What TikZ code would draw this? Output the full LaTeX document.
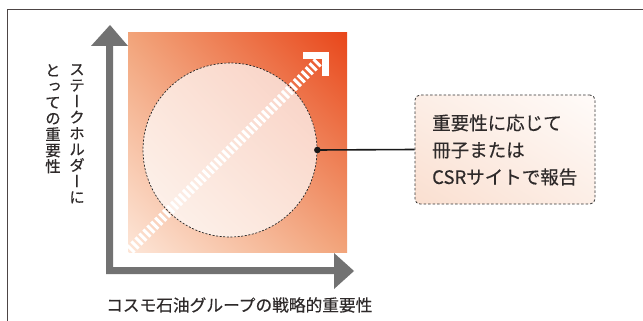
\documentclass[tikz,border=0pt]{standalone}
\usepackage{fontspec}
\usetikzlibrary{shadings}
\newfontfamily\jp[FakeBold=0.4]{Noto Sans CJK JP}
\newfontfamily\jpv[RawFeature=+vert,FakeBold=0.4]{Noto Sans CJK JP}
\definecolor{framec}{HTML}{4D4545}
\definecolor{axisgray}{HTML}{727272}
\definecolor{txt}{HTML}{2E2A2A}
\definecolor{sqLL}{HTML}{FDE6D8}
\definecolor{sqUR}{HTML}{E8461A}
\definecolor{sqMID}{HTML}{F2A47A}
\definecolor{bxLL}{HTML}{FADFD0}
\definecolor{bxUR}{HTML}{FFFBF9}
\definecolor{bxMID}{HTML}{FCEEE6}
\tikzset{
  axisshape/.style={fill=axisgray, draw=none},
  dashring/.style={draw=black!85, line width=0.7pt, dash pattern=on 2pt off 1.6pt},
  vlabel/.style={font=\jpv\fontsize{15.5}{16}\selectfont, text=txt, align=center, inner sep=0pt, anchor=north},
}
\begin{document}
\begin{tikzpicture}[x=1pt,y=-1pt]
\useasboundingbox (0,0) rectangle (643,321);
\fill[white] (0,0) rectangle (643,321);
% frame
\draw[framec, line width=1pt] (7,330) -- (7,10) -- (650,10);
% gradient square
\shade[lower left=sqLL, upper right=sqUR, upper left=sqMID, lower right=sqMID] (128,33) rectangle (347,252);
% axes
\fill[axisshape] (106,274) -- (106,46) -- (91,46) -- (110,25) -- (128,46) -- (113,46) -- (113,267) -- (334,267) -- (334,253) -- (354,271) -- (334,289) -- (334,274) -- cycle;
% circle
\node[circle, minimum size=174pt, inner sep=0pt, dashring, fill=white, fill opacity=0.7] (circ) at (230,150) {};
% white dashed arrow
\begin{scope}
\clip (128,33) rectangle (347,252);
\draw[white, line width=10pt, dash pattern=on 3pt off 2.6pt] (126,254) -- (319,61);
\end{scope}
\draw[white, line width=7pt, miter limit=10] (303,55.5) -- (325.5,55.5) -- (325.5,76.5);
% box
\node[rectangle, rounded corners=5pt, minimum width=180pt, minimum height=109pt, inner sep=0pt,
  lower left=bxLL, upper right=bxUR, upper left=bxMID, lower right=bxMID,
  draw=black!80, line width=0.8pt, dash pattern=on 2.5pt off 2pt] (box) at (505,149.5) {};
\node[font=\jp\fontsize{18.5}{27}\selectfont, text=txt, align=left, anchor=west, inner sep=0pt] (boxtext) at (432,150)
  {重要性に応じて\\冊子または\\CSRサイトで報告};
% connector
\draw[black!90, line width=1.6pt] (circ.east) -- (box.west);
\fill[black!90] (circ.east) circle (3.3pt);
% labels
\node[vlabel] (ylab1) at (77,64) {ス\\テ\\ー\\ク\\ホ\\ル\\ダ\\ー\\に};
\node[vlabel] (ylab2) at (53,64) {と\\っ\\て\\の\\重\\要\\性};
\node[font=\jp\fontsize{16.7}{18}\selectfont, text=txt, anchor=west, inner sep=0pt] (xlab) at (106,305) {コスモ石油グループの戦略的重要性};
\end{tikzpicture}
\end{document}
